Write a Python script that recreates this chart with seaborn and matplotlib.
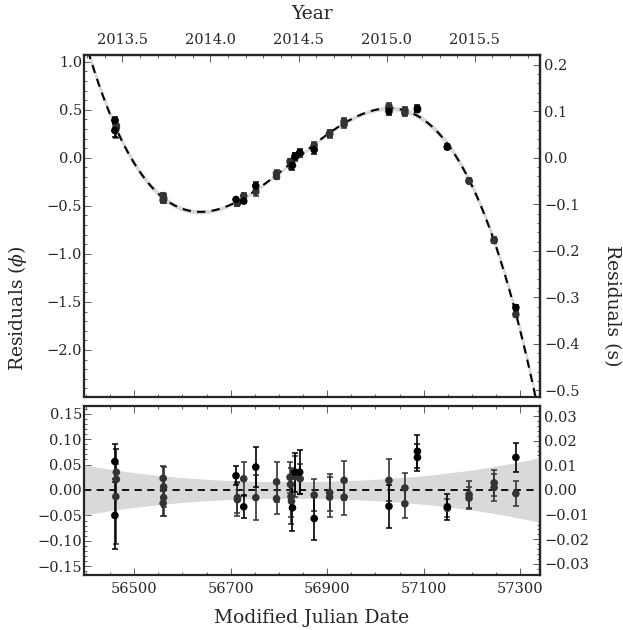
import numpy as np
import pandas as pd
import seaborn as sns
import matplotlib
matplotlib.use("Agg")
import matplotlib.pyplot as plt
from matplotlib.ticker import MultipleLocator, FixedLocator

# timing model curve (MJD, phase)
curve_mjd = [56406, 56438, 56462, 56500, 56562, 56604, 56638, 56720, 56796, 56837,
             56875, 56934, 57027, 57062, 57148, 57195, 57246, 57291, 57331]
curve_phase = [1.07, 0.63, 0.33, -0.10, -0.41, -0.535, -0.56, -0.44, -0.17, -0.01,
               0.125, 0.37, 0.53, 0.51, 0.12, -0.257, -0.865, -1.576, -2.50]

# model uncertainty (half width, phase)
band_mjd = [56396, 56462, 56560, 56641, 56713, 56844, 56950, 57028, 57100, 57151, 57246, 57341]
band_half = [0.049, 0.041, 0.026, 0.021, 0.019, 0.018, 0.019, 0.021, 0.027, 0.034, 0.048, 0.063]

# post-fit TOA residuals (phase)
toa_mjd = [56460, 56463, 56463, 56462, 56460, 56560, 56561, 56561, 56560,
           56711, 56714, 56714, 56727, 56727, 56752, 56752, 56795, 56795,
           56823, 56824, 56825, 56826, 56828, 56833, 56834, 56843, 56844,
           56873, 56873, 56905, 56905, 56935, 56935, 57028, 57028, 57061, 57061,
           57087, 57087, 57149, 57149, 57194, 57194, 57246, 57246, 57291, 57291]
toa_resid = [0.056, 0.035, 0.021, -0.013, -0.050, 0.023, 0.006, -0.015, -0.026,
             0.028, -0.015, -0.019, 0.022, -0.033, 0.045, -0.015, 0.016, -0.017,
             0.025, 0.011, -0.013, -0.022, -0.035, 0.035, 0.026, 0.035, 0.022,
             -0.010, -0.056, -0.005, -0.014, 0.019, -0.014, 0.019, -0.032, 0.004, -0.027,
             0.076, 0.064, -0.033, -0.036, -0.009, -0.016, 0.014, 0.005, 0.064, -0.007]
toa_err = [0.034, 0.045, 0.030, 0.094, 0.066, 0.024, 0.040, 0.036, 0.025,
           0.019, 0.030, 0.032, 0.033, 0.023, 0.040, 0.044, 0.039, 0.031,
           0.030, 0.032, 0.040, 0.045, 0.045, 0.038, 0.040, 0.043, 0.030,
           0.031, 0.042, 0.036, 0.039, 0.038, 0.036, 0.041, 0.042, 0.030, 0.028,
           0.032, 0.027, 0.025, 0.018, 0.027, 0.022, 0.025, 0.027, 0.029, 0.024]
toa_backend = ['A', 'B', 'B', 'B', 'A', 'B', 'B', 'B', 'B',
               'A', 'B', 'B', 'B', 'A', 'A', 'B', 'B', 'B',
               'B', 'B', 'B', 'B', 'A', 'A', 'B', 'A', 'B',
               'B', 'A', 'B', 'B', 'B', 'B', 'B', 'A', 'B', 'B',
               'A', 'A', 'A', 'B', 'B', 'B', 'B', 'B', 'A', 'B']

period = 0.2065  # s, phase -> seconds on right axes
year_ticks = [2013.5, 2014.0, 2014.5, 2015.0, 2015.5]
mjd_ticks = [56500, 56700, 56900, 57100, 57300]
phase_ticks = [-2.0, -1.5, -1.0, -0.5, 0.0, 0.5, 1.0]
sec_ticks = [-0.5, -0.4, -0.3, -0.2, -0.1, 0.0, 0.1, 0.2]
post_phase_ticks = [-0.15, -0.10, -0.05, 0.0, 0.05, 0.10, 0.15]
post_sec_ticks = [-0.03, -0.02, -0.01, 0.0, 0.01, 0.02, 0.03]

sns.set_style('ticks')
plt.rcParams['font.family'] = ['DejaVu Serif']
plt.rcParams['mathtext.fontset'] = 'dejavuserif'
plt.rcParams['xtick.labelsize'] = 10.5
plt.rcParams['ytick.labelsize'] = 10.5

# smooth model curve and band
xs = (np.array(curve_mjd) - 56850) / 500.0
coef = np.polyfit(xs, curve_phase, 5)
bcoef = np.polyfit((np.array(band_mjd) - 56850) / 500.0, band_half, 4)
grid = np.linspace(56380, 57360, 500)
gx = (grid - 56850) / 500.0
model = np.polyval(coef, gx)
half = np.polyval(bcoef, gx)

df = pd.DataFrame({'mjd': toa_mjd, 'resid': toa_resid, 'err': toa_err, 'backend': toa_backend})
df['phase'] = np.polyval(coef, (df['mjd'] - 56850) / 500.0) + df['resid']
colors = {'A': '#000000', 'B': '#333333'}

fig = plt.figure(figsize=(6.23, 6.30), dpi=100)
ax1 = fig.add_axes([84 / 623, 1 - 397 / 630, 456 / 623, 342 / 630])
ax2 = fig.add_axes([84 / 623, 1 - 575 / 630, 456 / 623, 169 / 630])

xlim = (56396, 57341)


def draw_points(ax, ycol):
    for b in ['B', 'A']:
        sub = df[df['backend'] == b]
        ax.errorbar(sub['mjd'], sub[ycol], yerr=sub['err'], fmt='none', ecolor=colors[b],
                    elinewidth=1.2, capsize=2.5, capthick=1.1, zorder=3)
        sns.scatterplot(data=sub, x='mjd', y=ycol, ax=ax, color=colors[b], s=30,
                        edgecolor='none', zorder=4, legend=False)


# upper panel
ax1.fill_between(grid, model - half, model + half, color='#d9d9d9', lw=0, zorder=1)
sns.lineplot(x=grid, y=model, ax=ax1, color='black', lw=1.5, zorder=2)
ax1.lines[-1].set_dashes([4, 3])
draw_points(ax1, 'phase')
ax1.set_xlim(xlim)
ax1.set_ylim(-2.49, 1.07)
ax1.yaxis.set_major_locator(FixedLocator(phase_ticks))
ax1.yaxis.set_minor_locator(MultipleLocator(0.1))

# lower panel
ax2.fill_between(grid, -half, half, color='#d9d9d9', lw=0, zorder=1)
ax2.axhline(0, color='black', lw=1.3, dashes=(4, 3), zorder=2)
draw_points(ax2, 'resid')
ax2.set_xlim(xlim)
ax2.set_ylim(-0.167, 0.165)
ax2.yaxis.set_major_locator(FixedLocator(post_phase_ticks))
ax2.yaxis.set_minor_locator(MultipleLocator(0.01))

for ax in (ax1, ax2):
    ax.xaxis.set_major_locator(FixedLocator(mjd_ticks))
    ax.xaxis.set_minor_locator(MultipleLocator(50))
    ax.set_xlabel('')
    ax.set_ylabel('')
    for sp in ax.spines.values():
        sp.set_visible(True)
        sp.set_linewidth(1.6)
    ax.tick_params(which='both', direction='in', color='#444444', width=0.6, left=True, bottom=True)
    ax.tick_params(which='major', length=5)
    ax.tick_params(which='minor', length=2.5)
    ax.tick_params(axis='y', pad=1.5)
    ax.tick_params(axis='x', pad=5)

ax1.tick_params(axis='x', labelbottom=False)
ax2.tick_params(which='both', top=True)

# year axis on top
sec = ax1.secondary_xaxis('top', functions=(lambda m: 2000 + (m - 51544.5) / 365.25,
                                            lambda y: 51544.5 + (y - 2000) * 365.25))
sec.xaxis.set_major_locator(FixedLocator(year_ticks))
sec.xaxis.set_minor_locator(MultipleLocator(0.1))
sec.tick_params(which='both', direction='in', color='#444444', width=0.6, pad=6)
sec.tick_params(which='major', length=5)
sec.tick_params(which='minor', length=2.5)
sec.spines['top'].set_linewidth(1.6)

# seconds on the right
for ax, ticks, mnr in ((ax1, sec_ticks, 0.02), (ax2, post_sec_ticks, 0.002)):
    r = ax.secondary_yaxis('right', functions=(lambda p: p * period, lambda s: s / period))
    r.yaxis.set_major_locator(FixedLocator(ticks))
    r.yaxis.set_minor_locator(MultipleLocator(mnr))
    r.tick_params(which='both', direction='in', color='#444444', width=0.6, pad=3)
    r.tick_params(which='major', length=5)
    r.tick_params(which='minor', length=2.5)
    r.spines['right'].set_linewidth(1.6)

fig.text(312 / 623, 1 - 14 / 630, 'Year', ha='center', va='center', fontsize=13.5)
fig.text(312 / 623, 1 - 618 / 630, 'Modified Julian Date', ha='center', va='center', fontsize=13.5)
fig.text(18 / 623, 1 - 308 / 630, r'Residuals ($\phi$)', ha='center', va='center',
         rotation=90, fontsize=13.5)
fig.text(612 / 623, 1 - 306 / 630, 'Residuals (s)', ha='center', va='center',
         rotation=270, fontsize=13.5)

fig.savefig('out.png', dpi=100)
